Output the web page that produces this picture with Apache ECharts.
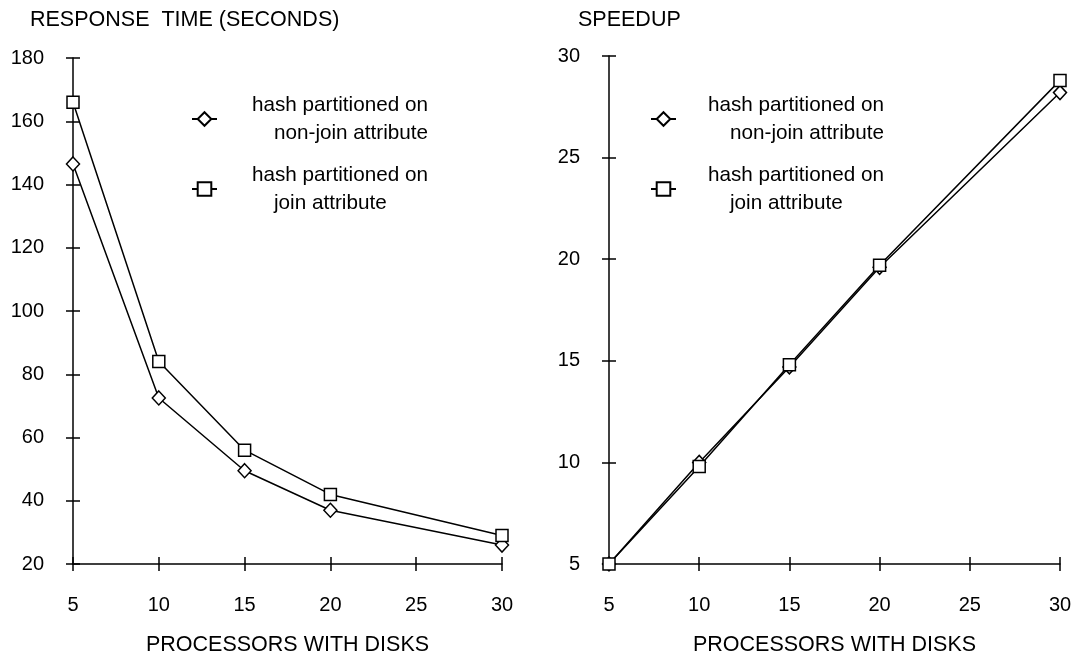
<!DOCTYPE html>
<html>
<head>
	<meta charset="utf-8">
	<title>Response time and speedup</title>
	<script src="https://cdn.jsdelivr.net/npm/echarts@6/dist/echarts.min.js"></script>
	<style>
		html, body { margin: 0; padding: 0; background: #fff; }
		#main { width: 1075px; height: 661px; }
	</style>
</head>
<body>
	<div id="main"></div>
	<script>
		// processors with disks
		var procs = [5, 10, 15, 20, 30];
		// response time (seconds)
		var respNonJoin = [146.5, 72.5, 49.5, 37, 26];
		var respJoin = [166, 84, 56, 42, 29];
		// speedup
		var speedNonJoin = [5, 10, 14.7, 19.6, 28.2];
		var speedJoin = [5, 9.8, 14.8, 19.7, 28.8];

		var nameNonJoin = 'hash partitioned on non-join attribute';
		var nameJoin = 'hash partitioned on join attribute';
		var legendLines = {};
		legendLines[nameNonJoin] = ['hash partitioned on', 'non-join attribute'];
		legendLines[nameJoin] = ['hash partitioned on', 'join attribute'];

		var font = '"Liberation Sans", Arial, sans-serif';

		function pairs(xs, ys) {
			return xs.map(function (x, i) { return [x, ys[i]]; });
		}

		// two axes per direction: one with ticks outside, one inside, so the ticks cross the line
		function xAxes(grid) {
			var base = {gridIndex: grid, type: 'value', min: 5, max: 30, interval: 5, position: 'bottom', splitLine: {show: false}};
			return [
				Object.assign({}, base, {
					name: 'PROCESSORS WITH DISKS', nameLocation: 'middle', nameGap: 70,
					nameTextStyle: {color: '#000', fontSize: 21.5, fontFamily: font},
					axisLine: {lineStyle: {color: '#000', width: 1.5}},
					axisTick: {length: 7, lineStyle: {color: '#000', width: 1.5}},
					axisLabel: {color: '#000', fontSize: 20, fontFamily: font, margin: 31}
				}),
				Object.assign({}, base, {
					axisLine: {show: false},
					axisTick: {inside: true, length: 7, lineStyle: {color: '#000', width: 1.5}},
					axisLabel: {show: false}
				})
			];
		}

		function yAxes(grid, min, max, step) {
			var base = {gridIndex: grid, type: 'value', min: min, max: max, interval: step, position: 'left', splitLine: {show: false}};
			return [
				Object.assign({}, base, {
					axisLine: {lineStyle: {color: '#000', width: 1.5}},
					axisTick: {length: 7, lineStyle: {color: '#000', width: 1.5}},
					axisLabel: {color: '#000', fontSize: 20, fontFamily: font, margin: 29}
				}),
				Object.assign({}, base, {
					axisLine: {show: false},
					axisTick: {inside: true, length: 7, lineStyle: {color: '#000', width: 1.5}},
					axisLabel: {show: false}
				})
			];
		}

		function line(name, grid, data, symbol, size) {
			return {
				name: name,
				type: 'line',
				xAxisIndex: grid * 2,
				yAxisIndex: grid * 2,
				data: data,
				symbol: symbol,
				symbolSize: size,
				showAllSymbol: true,
				lineStyle: {color: '#000', width: 1.5},
				itemStyle: {color: '#fff', borderColor: '#000', borderWidth: 1.5},
				emphasis: {disabled: true},
				animation: false
			};
		}

		function legend(left, top, gap) {
			return {
				left: left, top: top,
				orient: 'vertical',
				itemWidth: 25, itemHeight: 17, itemGap: 14,
				selectedMode: false,
				data: [nameNonJoin, nameJoin].map(function (n) { return {name: n}; }),
				formatter: function (n) {
					var l = legendLines[n];
					return '{a|' + l[0] + '}\n{b|' + l[1] + '}';
				},
				textStyle: {
					color: '#000', fontSize: 20.7, fontFamily: font, lineHeight: 28,
					rich: {
						a: {color: '#000', fontSize: 20.7, fontFamily: font, lineHeight: 28, padding: [0, 0, 0, gap]},
						b: {color: '#000', fontSize: 20.7, fontFamily: font, lineHeight: 28, padding: [0, 0, 0, gap + 22]}
					}
				}
			};
		}

		var chart = echarts.init(document.getElementById('main'));
		var option = {
			backgroundColor: '#fff',
			animation: false,
			title: [
				{text: 'RESPONSE  TIME (SECONDS)', left: 25, top: 4, textStyle: {color: '#000', fontSize: 21.5, fontWeight: 'normal', fontFamily: font}},
				{text: 'SPEEDUP', left: 573, top: 4, textStyle: {color: '#000', fontSize: 21.5, fontWeight: 'normal', fontFamily: font}}
			],
			grid: [
				{left: 73, right: 573, top: 58, bottom: 96},
				{left: 609, right: 15, top: 56, bottom: 96}
			],
			xAxis: xAxes(0).concat(xAxes(1)),
			yAxis: yAxes(0, 20, 180, 20).concat(yAxes(1, 5, 30, 5)),
			legend: [legend(186, 86, 30), legend(645, 86, 27)],
			series: [
				line(nameNonJoin, 0, pairs(procs, respNonJoin), 'diamond', [13, 14]),
				line(nameJoin, 0, pairs(procs, respJoin), 'rect', 12),
				line(nameNonJoin, 1, pairs(procs, speedNonJoin), 'diamond', [13, 14]),
				line(nameJoin, 1, pairs(procs, speedJoin), 'rect', 12)
			]
		};
		chart.setOption(option);
	</script>
</body>
</html>
